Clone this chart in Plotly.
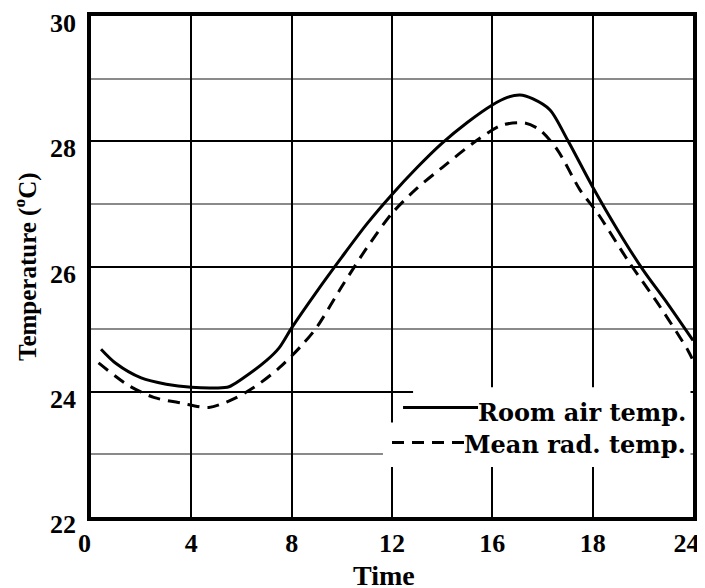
import plotly.graph_objects as go

# ---- data ----
room_hours = [0.4, 1, 2, 3, 4, 5, 5.5, 6, 7, 7.5, 8, 9, 10, 11, 12, 13, 14, 15, 16,
              16.6, 17.1, 17.6, 18.3, 19, 20, 21, 22, 23, 24]
room_temp = [24.68, 24.45, 24.22, 24.12, 24.07, 24.06, 24.08, 24.2, 24.5, 24.7, 25.02,
             25.6, 26.15, 26.68, 27.15, 27.58, 27.97, 28.3, 28.58,
             28.7, 28.74, 28.68, 28.5, 28.02, 27.27, 26.58, 25.95, 25.4, 24.82]

mrt_hours = [0.3, 1.5, 2.5, 3.6, 4.7, 5.6, 6.5, 7.5, 8.4, 9, 10, 11, 12, 13, 14,
             15.4, 16.4, 17.3, 17.9, 18.6, 19.5, 20.2, 21.4, 22.7, 23.8, 24]
mrt_temp = [24.46, 24.1, 23.91, 23.82, 23.75, 23.87, 24.07, 24.38, 24.74, 25.03,
            25.68, 26.3, 26.85, 27.25, 27.58, 28.02, 28.26, 28.29, 28.18, 27.86,
            27.22, 26.85, 26.1, 25.35, 24.66, 24.5]

x_tickvals = [0, 4, 8, 12, 16, 20, 24]
x_ticktext = ["0", "4", "8", "12", "16", "18", "24"]
y_tickvals = [22, 24, 26, 28, 30]

series_names = ["Room air temp.", "Mean rad. temp."]

SERIF = "Liberation Serif"
NBSP = "\u00a0"

# page body has an 8px margin; the figure is sized so the plot lands where the reference has it
PW, PH = 602, 501  # plot area size in px

# end labels sit a little inward in the reference
x_ticktext_shown = [t + NBSP * 2 if i in (0, len(x_ticktext) - 1) else t
                    for i, t in enumerate(x_ticktext)]

fig = go.Figure()
fig.add_trace(go.Scatter(x=room_hours, y=room_temp, mode="lines",
                         line=dict(color="black", width=3, shape="spline", smoothing=0.8),
                         name=series_names[0], showlegend=False))
fig.add_trace(go.Scatter(x=mrt_hours, y=mrt_temp, mode="lines",
                         line=dict(color="black", width=3, dash="12px,8px",
                                   shape="spline", smoothing=0.8),
                         name=series_names[1], showlegend=False))

# legend: white patches over the grid, line samples and labels
shapes = [
    dict(type="rect", xref="x", yref="y", x0=12.84, x1=23.9, y0=23.50, y1=24.07,
         fillcolor="white", line=dict(width=0), layer="above"),
    dict(type="rect", xref="x", yref="y", x0=11.64, x1=23.9, y0=22.80, y1=23.51,
         fillcolor="white", line=dict(width=0), layer="above"),
    dict(type="line", xref="x", yref="y", x0=12.44, x1=15.43, y0=23.75, y1=23.75,
         line=dict(color="black", width=3), layer="above"),
    dict(type="line", xref="x", yref="y", x0=12.0, x1=14.99, y0=23.19, y1=23.19,
         line=dict(color="black", width=3, dash="12px,8px"), layer="above"),
]

annotations = [
    dict(text=series_names[0], xref="x", yref="y", x=23.8, y=23.67,
         xanchor="right", yanchor="middle", showarrow=False,
         font=dict(family="DejaVu Serif", size=24, color="black", weight="bold")),
    dict(text=series_names[1], xref="x", yref="y", x=23.8, y=23.15,
         xanchor="right", yanchor="middle", showarrow=False,
         font=dict(family="DejaVu Serif", size=24, color="black", weight="bold")),
    dict(text="Temperature (<sup>o</sup>C)", xref="paper", yref="paper",
         x=(25 - 91) / PW, y=(517 - 267) / PH, textangle=-90,
         xanchor="center", yanchor="middle", showarrow=False,
         font=dict(family=SERIF, size=25, color="black", weight="bold")),
    dict(text="Time", xref="paper", yref="paper",
         x=(384 - 91) / PW, y=-(558 - 517) / PH,
         xanchor="center", yanchor="top", showarrow=False,
         font=dict(family=SERIF, size=28, color="black", weight="bold")),
]

fig.update_layout(
    width=697, height=580,
    margin=dict(l=83, r=12, t=8, b=71, autoexpand=False),
    paper_bgcolor="white", plot_bgcolor="white",
    shapes=shapes, annotations=annotations,
    showlegend=False,
)
fig.update_xaxes(range=[0, 24], tickvals=x_tickvals, ticktext=x_ticktext_shown,
                 showgrid=True, gridcolor="black", gridwidth=1.5, zeroline=False,
                 showline=True, linecolor="black", linewidth=3.5, mirror=True,
                 ticks="", ticklabelstandoff=0, automargin=False,
                 ticklabeloverflow="allow",
                 tickfont=dict(family=SERIF, size=26, color="black", weight="bold"))
fig.update_yaxes(range=[22, 30], tickvals=y_tickvals,
                 showgrid=True, gridcolor="black", gridwidth=1.5, zeroline=False,
                 showline=True, linecolor="black", linewidth=3.5, mirror=True,
                 ticks="", ticklabelstandoff=6, automargin=False,
                 ticklabeloverflow="allow", ticklabelshift=7,
                 minor=dict(dtick=1, tick0=22, showgrid=True, gridcolor="#8a8a8a", gridwidth=2),
                 tickfont=dict(family=SERIF, size=26, color="black", weight="bold"))

fig.write_html("out.html")
